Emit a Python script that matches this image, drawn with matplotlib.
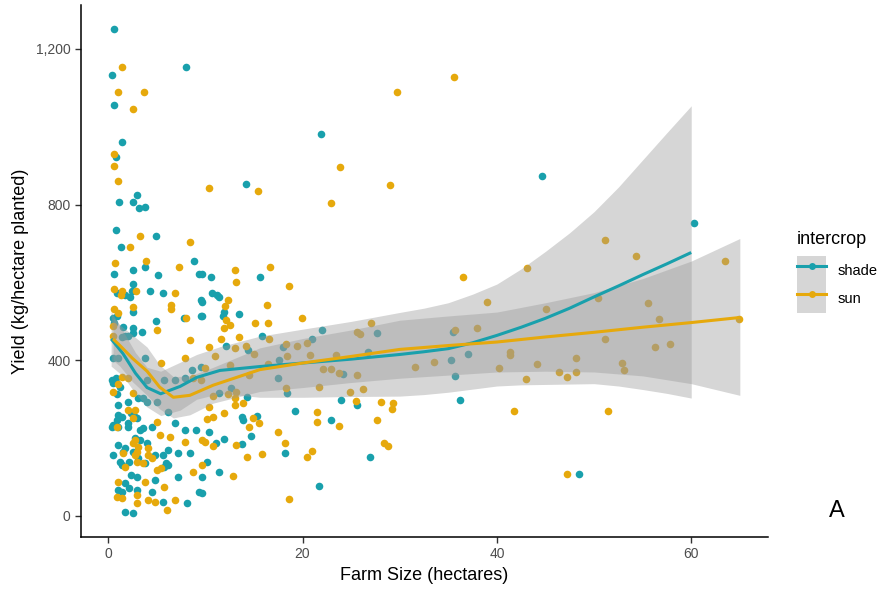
import matplotlib
matplotlib.use("Agg")
import matplotlib.pyplot as plt
from matplotlib.lines import Line2D
from matplotlib.patches import Patch

plt.rcParams['font.family'] = ['Liberation Sans', 'DejaVu Sans']

SHADE = '#19A0AC'
SUN = '#E6A90C'

# shade farms: size (ha), yield (kg/ha)
shade_size = [0.6, 0.4, 8.0, 0.6, 1.4, 0.8, 14.2, 21.9, 44.6, 60.3,
              3.0, 1.1, 2.6, 3.2, 3.8, 0.8, 4.9, 1.3, 8.8, 0.6, 2.6, 3.8, 5.1, 9.3, 10.6, 9.7, 15.6,
              0.9, 1.7, 2.2, 2.4, 2.5, 4.3, 5.6, 9.6, 10.7, 11.2, 11.4, 9.7, 7.8, 9.6, 2.5, 0.5, 0.9,
              4.9, 2.5, 2.6, 1.7, 1.4, 3.5, 11.9, 11.8, 13.5, 9.7, 15.8, 12.1, 14.4, 18.0, 21.0,
              17.6, 17.5, 11.4, 12.6, 18.4, 14.3, 19.2, 13.8, 13.9, 15.3, 10.4, 14.7, 11.9, 11.1,
              13.8, 18.2, 10.2, 11.4, 9.7, 21.7,
              22.0, 27.7, 26.7, 24.2, 24.0, 25.6, 22.9, 26.9, 35.5, 37.0, 35.3, 35.7, 36.2, 48.5,
              0.5, 1.0, 3.8, 0.4, 0.8, 1.2, 0.5, 0.9, 3.1, 3.6, 4.0, 5.7, 6.9, 7.9, 8.6, 9.5,
              2.0, 1.0, 1.0, 1.4, 0.9, 2.3, 2.8, 0.6, 1.5, 2.0,
              0.4, 0.5, 1.0, 2.0, 2.0, 3.0, 4.5, 6.9, 7.9, 9.0,
              3.3, 3.6, 2.8, 3.3, 4.0, 2.6, 1.7, 1.5, 1.0, 0.5,
              4.8, 5.6, 6.2, 5.9, 5.7, 6.2, 7.2, 8.4, 3.1, 3.8, 2.1, 1.4, 1.2,
              2.3, 3.0, 1.7, 1.0, 1.4, 2.1, 3.0, 7.2, 4.8, 4.5, 5.6, 8.1,
              1.7, 2.6, 9.7, 9.3, 4.0, 5.0, 6.2]
shade_yield = [1251, 1133, 1154, 1057, 961, 922, 854, 982, 874, 754,
               825, 808, 808, 792, 795, 736, 720, 692, 654, 623, 633, 641, 618, 623, 613, 623, 613,
               572, 567, 562, 579, 595, 577, 572, 554, 572, 569, 562, 551, 510, 515, 523, 510, 513,
               500, 482, 469, 462, 459, 474, 523, 513, 520, 513, 462, 436, 426, 433, 456,
               400, 354, 315, 328, 315, 305, 269, 254, 246, 256, 215, 205, 197, 187,
               185, 162, 138, 113, 59, 77,
               477, 469, 421, 364, 297, 285, 246, 151, 472, 415, 400, 359, 297, 108,
               405, 405, 405, 349, 354, 331, 341, 313, 303, 303, 292, 349, 349, 354, 374, 382,
               292, 285, 259, 254, 246, 264, 254, 495, 485, 462,
               228, 233, 228, 238, 228, 251, 228, 238, 221, 221,
               221, 226, 200, 195, 187, 164, 174, 164, 182, 156,
               156, 156, 169, 136, 126, 131, 161, 161, 149, 136, 138, 131, 138,
               105, 100, 85, 67, 62, 72, 67, 100, 92, 62, 36, 33,
               10, 8, 100, 62, 349, 292, 267]

# sun farms: size (ha), yield (kg/ha)
sun_size = [1.4, 1.0, 3.7, 2.6, 0.6, 0.6, 1.0, 10.4, 15.4, 35.6, 29.7, 23.9, 22.9, 29.0,
            51.1, 54.3, 63.5, 43.1, 36.5, 39.0, 50.4, 55.6, 45.1, 56.7, 64.9, 35.7, 38.0, 51.1,
            56.3, 57.8, 41.4, 41.4, 33.5, 31.6, 44.1, 48.1, 40.2, 52.9, 53.1, 46.4, 48.1, 47.2,
            43.0, 41.8, 51.4, 47.2,
            27.0, 25.6, 25.9, 23.4, 22.1, 22.9, 23.7, 25.6, 21.7, 24.9, 26.2, 25.5, 28.1, 29.3,
            29.2, 21.5, 21.5, 23.7, 27.7, 28.4, 28.8,
            16.7, 13.0, 13.2, 18.6, 12.3, 16.3, 12.1, 12.5, 11.9, 15.1, 16.4, 19.9, 11.6, 13.5,
            16.5, 10.4, 13.0, 11.0, 14.2, 15.0, 18.3, 18.4, 19.4, 20.5, 20.8, 10.0, 12.5, 16.4,
            14.5, 10.8, 12.3, 13.2, 13.0, 13.0, 13.9, 18.3, 10.4, 11.9, 10.2, 10.8, 14.9, 15.5,
            14.5, 17.5, 10.0, 10.8, 13.1, 18.2, 15.8, 14.3, 20.5, 21.0, 9.7, 12.8, 18.6,
            3.3, 2.2, 8.4, 0.7, 3.9, 7.3, 0.6, 1.4, 1.3, 2.9, 6.9, 6.5, 6.5, 8.0, 2.6, 0.6, 1.0,
            5.0, 8.4, 0.5, 0.5, 12.0,
            5.4, 7.9, 1.4, 2.0, 1.0, 0.5, 2.5, 8.7, 9.5,
            2.0, 2.8, 2.5, 0.9, 5.0, 5.3, 6.4, 7.9, 9.7, 2.5, 2.8, 3.1, 4.1,
            2.8, 3.0, 4.1, 1.5, 4.5, 5.0, 5.4, 3.0, 3.6, 1.7,
            1.0, 0.9, 1.4, 3.0, 4.1, 3.8, 5.7, 4.8, 6.9, 6.1, 3.0, 8.7]
sun_yield = [1154, 1090, 1090, 1046, 930, 900, 862, 844, 836, 1128, 1090, 897, 805, 851,
             708, 669, 656, 636, 613, 551, 561, 546, 533, 505, 505, 477, 482, 456,
             433, 441, 421, 413, 395, 382, 390, 405, 379, 392, 374, 369, 369, 356,
             351, 269, 269, 108,
             495, 472, 467, 413, 377, 377, 367, 362, 331, 318, 326, 295, 292, 290,
             274, 267, 241, 231, 246, 187, 179,
             641, 633, 600, 590, 556, 541, 503, 490, 482, 497, 495, 508, 454, 459,
             454, 433, 431, 410, 436, 415, 441, 410, 436, 444, 413, 379, 387, 390,
             362, 308, 313, 318, 303, 285, 290, 328, 279, 264, 249, 254, 251, 238,
             228, 215, 190, 179, 182, 187, 159, 151, 151, 167, 131, 103, 44,
             720, 690, 703, 651, 656, 641, 582, 579, 569, 577, 574, 541, 533, 510, 538, 531, 521,
             477, 451, 487, 462, 540,
             392, 405, 356, 354, 338, 318, 315, 354, 349,
             272, 272, 251, 228, 241, 208, 203, 190, 195, 187, 195, 177, 174,
             156, 164, 156, 162, 149, 118, 123, 138, 136, 126,
             87, 49, 46, 54, 41, 87, 74, 36, 41, 15, 33, 113]

# smoothed fits with confidence band
shade_fit_x = [0.3, 1.5, 2.8, 4.0, 5.4, 7.4, 9.1, 11.5, 15.6, 20, 25, 30, 32.5, 35, 37.5,
               40, 42.5, 45, 47.5, 50, 52.5, 55, 57.5, 60]
shade_fit = [455, 418, 367, 330, 314, 333, 356, 374, 384, 393, 403, 415, 422, 430, 445,
             464, 485, 508, 534, 563, 591, 620, 648, 677]
shade_lo = [385, 360, 315, 280, 258, 272, 300, 315, 305, 305, 307, 308, 312, 318, 326,
            334, 337, 338, 339, 340, 334, 325, 315, 303]
shade_hi = [525, 476, 420, 382, 372, 395, 415, 435, 462, 480, 500, 523, 534, 548, 570,
            596, 635, 680, 728, 782, 845, 915, 985, 1054]

sun_fit_x = [0.5, 1.2, 2.5, 4.0, 5.3, 6.7, 8.4, 10.8, 15.6, 20, 25, 30, 35, 40, 45, 50, 55, 60, 65]
sun_fit = [455, 438, 405, 372, 331, 305, 310, 336, 376, 393, 410, 428, 438, 447, 460, 472, 485, 497, 510]
sun_lo = [400, 385, 345, 310, 275, 252, 260, 290, 320, 330, 343, 354, 362, 370, 372, 370, 360, 340, 310]
sun_hi = [510, 491, 465, 434, 388, 358, 360, 382, 432, 456, 478, 503, 514, 524, 548, 574, 610, 655, 713]

fig = plt.figure(figsize=(8.81, 5.96), dpi=100)
ax = fig.add_axes([81 / 881, 59 / 596, 687 / 881, 532 / 596])

ax.scatter(shade_size, shade_yield, s=30, color=SHADE, linewidths=0, zorder=2)
ax.scatter(sun_size, sun_yield, s=30, color=SUN, linewidths=0, zorder=2)

ax.fill_between(shade_fit_x, shade_lo, shade_hi, color='#999999', alpha=0.4, lw=0, zorder=3)
ax.plot(shade_fit_x, shade_fit, color=SHADE, lw=2.2, zorder=4, solid_capstyle='butt')
ax.fill_between(sun_fit_x, sun_lo, sun_hi, color='#999999', alpha=0.4, lw=0, zorder=3)
ax.plot(sun_fit_x, sun_fit, color=SUN, lw=2.2, zorder=4, solid_capstyle='butt')

ax.set_xlim(-2.8, 67.9)
ax.set_ylim(-54, 1313)
ax.set_xticks([0, 20, 40, 60])
ax.set_yticks([0, 400, 800, 1200])
ax.set_yticklabels(['0', '400', '800', '1,200'])
for s in ['top', 'right']:
    ax.spines[s].set_visible(False)
for s in ['left', 'bottom']:
    ax.spines[s].set_linewidth(1.1)
ax.tick_params(colors='#333333', labelcolor='#4D4D4D', labelsize=10, length=4, width=1)
ax.set_xlabel('Farm Size (hectares)', fontsize=13, labelpad=4)
ax.set_ylabel('Yield (kg/hectare planted)', fontsize=13, labelpad=5)

band = Patch(facecolor='#999999', alpha=0.4, edgecolor='none')
h_shade = (band, Line2D([], [], color=SHADE, lw=2.2, marker='o', ms=5, mec='none'))
h_sun = (band, Line2D([], [], color=SUN, lw=2.2, marker='o', ms=5, mec='none'))
leg = fig.legend([h_shade, h_sun], ['shade', 'sun'], title='intercrop',
                 loc='upper left', bbox_to_anchor=(797 / 881, 1 - 231 / 596),
                 frameon=False, fontsize=10.5, title_fontsize=13,
                 handlelength=2.0, handleheight=2.6, labelspacing=0.0,
                 handletextpad=0.8, borderaxespad=0, borderpad=0)
leg._legend_box.align = 'left'
leg._legend_box.sep = 6

fig.text(837 / 881, 1 - 511 / 596, 'A', fontsize=17, ha='center', va='center')

fig.savefig('out.png', dpi=100)
